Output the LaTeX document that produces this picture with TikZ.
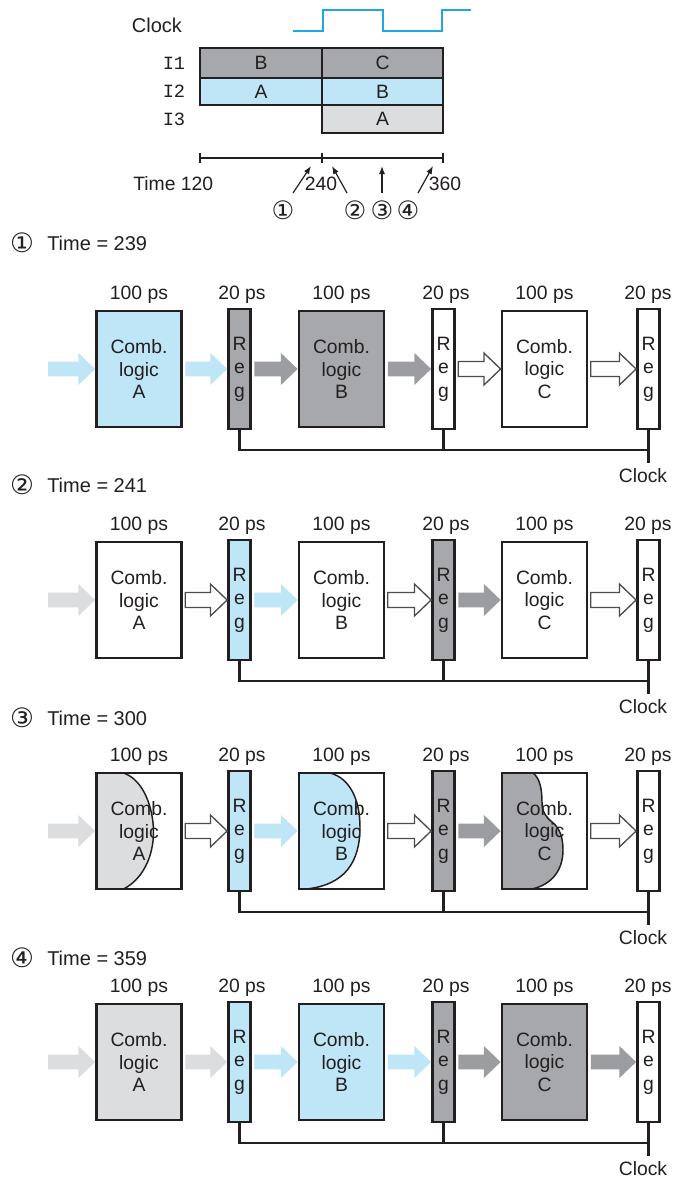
\documentclass[tikz,border=0pt]{standalone}
\usepackage{fontspec}
\setmainfont{Liberation Sans}
\newfontfamily\monof{Liberation Mono}
\newfontfamily\symf{DejaVu Sans}
\usetikzlibrary{calc,arrows.meta}
\definecolor{blueF}{HTML}{BEE6F7}
\definecolor{dgrayF}{HTML}{A7A8AB}
\definecolor{lgrayF}{HTML}{DCDDDF}
\definecolor{dgrayA}{HTML}{9C9DA0}
\definecolor{clkblue}{HTML}{1FA8E0}
\definecolor{ink}{HTML}{231F20}
\tikzset{
  comb/.style={draw=ink, line width=2.1pt, minimum width=63.75pt, minimum height=87pt, inner sep=0pt, align=center, font=\fontsize{14.5}{16.9}\selectfont, text=ink},
  reg/.style={draw=ink, line width=2.1pt, minimum width=16.5pt, minimum height=90pt, inner sep=0pt, align=center, font=\fontsize{14.5}{17.6}\selectfont, text=ink},
  lbl/.style={inner sep=0pt, font=\fontsize{14.5}{17}\selectfont, text=ink},
  ttl/.style={inner sep=0pt, font=\fontsize{15}{17}\selectfont, text=ink},
  circ/.style={inner sep=0pt, font=\symf\fontsize{20}{22}\selectfont, text=ink},
  circs/.style={inner sep=0pt, font=\symf\fontsize{19}{20}\selectfont, text=ink},
  mono/.style={inner sep=0pt, font=\monof\fontsize{14}{17}\selectfont, text=ink},
  tbox/.style={draw=ink, line width=2.1pt, inner sep=0pt, font=\fontsize{14.5}{17}\selectfont, text=ink},
  wire/.style={draw=ink, line width=1.9pt},
  axis/.style={draw=ink, line width=0.9pt},
  tarr/.style={draw=ink, line width=0.9pt, -{Latex[length=6pt,width=4.5pt]}},
  clockw/.style={draw=clkblue, line width=1.2pt},
  hol/.style={fill=white, draw=black!70, line width=1pt},
  arBl/.style={fill=blueF},
  arDg/.style={fill=dgrayA},
  arLg/.style={fill=lgrayF},
  curve/.style={draw=ink, line width=1.1pt},
}
% fat arrow from point #2 to tip at point #3 (same height)
\newcommand{\fatarr}[3]{\path[#1] let \p1=(#2), \p2=(#3) in (\x1,\y1+5.6pt) -- (\x2-12.5pt,\y1+5.6pt) -- (\x2-12.5pt,\y1+12pt) -- (\x2,\y1) -- (\x2-12.5pt,\y1-12pt) -- (\x2-12.5pt,\y1-5.6pt) -- (\x1,\y1-5.6pt) -- cycle;}
% stage nodes: #1 prefix, #2 centre y, #3 A, #4 R1, #5 B, #6 R2, #7 C
\newcommand{\stagenodes}[7]{%
  \node[comb,#3] (#1A) at (139,#2) {Comb.\\logic\\A};
  \node[reg,#4] (#1R1) at (239.5,#2) {R\\e\\g};
  \node[comb,#5] (#1B) at (341.5,#2) {Comb.\\logic\\B};
  \node[reg,#6] (#1R2) at (443.5,#2) {R\\e\\g};
  \node[comb,#7] (#1C) at (544.5,#2) {Comb.\\logic\\C};
  \node[reg,fill=white] (#1R3) at (648.5,#2) {R\\e\\g};
  \node[lbl] (#1tA) at (139,#2-74) {100 ps};
  \node[lbl] (#1t1) at (242,#2-74) {20 ps};
  \node[lbl] (#1tB) at (341.5,#2-74) {100 ps};
  \node[lbl] (#1t2) at (446,#2-74) {20 ps};
  \node[lbl] (#1tC) at (544.5,#2-74) {100 ps};
  \node[lbl] (#1t3) at (648,#2-74) {20 ps};
  \coordinate (#1in) at (48,#2);
  \coordinate (#1j) at (648.5,#2+81);
  \coordinate (#1ce) at (648.5,#2+94);
  \draw[wire] (#1R1.south) |- (#1j);
  \draw[wire] (#1R2.south) -- (#1R2.south |- #1j);
  \draw[wire] (#1R3.south) -- (#1ce);
  \node[lbl] (#1clk) at (643,#2+107) {Clock};
}
% stage arrows: #1 prefix, #2..#7 styles
\newcommand{\stagearrows}[7]{%
  \fatarr{#2}{#1in}{#1A.west}
  \fatarr{#3}{[xshift=1.8pt]#1A.east}{#1R1.west}
  \fatarr{#4}{[xshift=1.8pt]#1R1.east}{#1B.west}
  \fatarr{#5}{[xshift=1.8pt]#1B.east}{#1R2.west}
  \fatarr{#6}{[xshift=1.8pt]#1R2.east}{#1C.west}
  \fatarr{#7}{[xshift=1.8pt]#1C.east}{#1R3.west}
}
\begin{document}
\begin{tikzpicture}[x=0.75pt,y=-0.75pt]
\useasboundingbox (0,0) rectangle (674,1179);
\fill[white] (0,0) rectangle (674,1179);

% ---------- timing diagram ----------
\node[lbl, font=\fontsize{15}{17}\selectfont] (clkT) at (157,25) {Clock};
\draw[clockw] (293,31) -- (323,31) -- (323,10) -- (383,10) -- (383,31) -- (442,31) -- (442,10) -- (471,10);

\node[tbox, fill=dgrayF, minimum width=91.5pt, minimum height=22.5pt] (i1b) at (261,63) {B};
\node[tbox, fill=dgrayF, minimum width=90.75pt, minimum height=22.5pt] (i1c) at (382.5,63) {C};
\node[tbox, fill=blueF, minimum width=91.5pt, minimum height=20.25pt] (i2a) at (261,91.5) {A};
\node[tbox, fill=blueF, minimum width=90.75pt, minimum height=20.25pt] (i2b) at (382.5,91.5) {B};
\node[tbox, fill=lgrayF, minimum width=90.75pt, minimum height=21pt] (i3a) at (382.5,119) {A};
\node[mono] (l1) at (174,63) {I1};
\node[mono] (l2) at (174,91) {I2};
\node[mono] (l3) at (174,119) {I3};

\coordinate (ax0) at (200,158);
\coordinate (ax1) at (322,158);
\coordinate (ax2) at (443,158);
\draw[axis] (ax0) -- (ax2);
\draw[axis] ([yshift=4pt]ax0) -- ([yshift=-4pt]ax0);
\draw[axis] ([yshift=4pt]ax1) -- ([yshift=-4pt]ax1);
\draw[axis] ([yshift=4pt]ax2) -- ([yshift=-4pt]ax2);

\node[lbl, anchor=west] (t120) at (133,184) {Time 120};
\node[lbl] (t240) at (321,184) {240};
\node[lbl] (t360) at (445,184) {360};

\coordinate (a1s) at (293,193); \coordinate (a1e) at (311,166);
\coordinate (a2s) at (347,193); \coordinate (a2e) at (332,166);
\coordinate (a3s) at (382,193); \coordinate (a3e) at (382,166);
\coordinate (a4s) at (418,193); \coordinate (a4e) at (433,166);
\draw[tarr] (a1s) -- (a1e);
\draw[tarr] (a2s) -- (a2e);
\draw[tarr] (a3s) -- (a3e);
\draw[tarr] (a4s) -- (a4e);
\node[circs] (c1) at (283,210) {①};
\node[circs] (c2) at (355,210) {②};
\node[circs] (c3) at (382,210) {③};
\node[circs] (c4) at (408,210) {④};

% ---------- panel 1 ----------
\node[circ] (p1c) at (22,243) {①};
\node[ttl, anchor=west] (p1t) at (47,243) {Time = 239};
\stagenodes{a}{369}{fill=blueF}{fill=dgrayF}{fill=dgrayF}{fill=white}{fill=white}
\stagearrows{a}{arBl}{arBl}{arDg}{arDg}{hol}{hol}

% ---------- panel 2 ----------
\node[circ] (p2c) at (22,485) {②};
\node[ttl, anchor=west] (p2t) at (47,485) {Time = 241};
\stagenodes{b}{600}{fill=white}{fill=blueF}{fill=white}{fill=dgrayF}{fill=white}
\stagearrows{b}{arLg}{hol}{arBl}{hol}{arDg}{hol}

% ---------- panel 3 ----------
\node[circ] (p3c) at (22,718) {③};
\node[ttl, anchor=west] (p3t) at (47,718) {Time = 300};
% partial evaluation fronts (drawn under the boxes)
\begin{scope}[shift={(96.5,773)}]
  \fill[lgrayF] (0,0) -- (27,0) .. controls (48,7) and (57,37) .. (57,59) .. controls (57,85) and (45,107) .. (27,116) -- (0,116) -- cycle;
  \draw[curve] (27,0) .. controls (48,7) and (57,37) .. (57,59) .. controls (57,85) and (45,107) .. (27,116);
\end{scope}
\begin{scope}[shift={(299,773)}]
  \fill[blueF] (0,0) -- (31,0) .. controls (51,5) and (61,27) .. (61,54) .. controls (61,89) and (46,112) .. (7,116) -- (0,116) -- cycle;
  \draw[curve] (31,0) .. controls (51,5) and (61,27) .. (61,54) .. controls (61,89) and (46,112) .. (7,116);
\end{scope}
\begin{scope}[shift={(502,773)}]
  \fill[dgrayF] (0,0) -- (31,0) .. controls (38,5) and (40,17) .. (40,29) .. controls (40,39) and (44,44) .. (50,49) .. controls (58,55) and (61,65) .. (61,77) .. controls (61,99) and (48,112) .. (30,116) -- (0,116) -- cycle;
  \draw[curve] (31,0) .. controls (38,5) and (40,17) .. (40,29) .. controls (40,39) and (44,44) .. (50,49) .. controls (58,55) and (61,65) .. (61,77) .. controls (61,99) and (48,112) .. (30,116);
\end{scope}
\stagenodes{c}{831}{fill=none}{fill=blueF}{fill=none}{fill=dgrayF}{fill=none}
\stagearrows{c}{arLg}{hol}{arBl}{hol}{arDg}{hol}

% ---------- panel 4 ----------
\node[circ] (p4c) at (22,958) {④};
\node[ttl, anchor=west] (p4t) at (47,958) {Time = 359};
\stagenodes{d}{1062}{fill=lgrayF}{fill=blueF}{fill=blueF}{fill=dgrayF}{fill=dgrayF}
\stagearrows{d}{arLg}{arLg}{arBl}{arBl}{arDg}{arDg}
\end{tikzpicture}
\end{document}
